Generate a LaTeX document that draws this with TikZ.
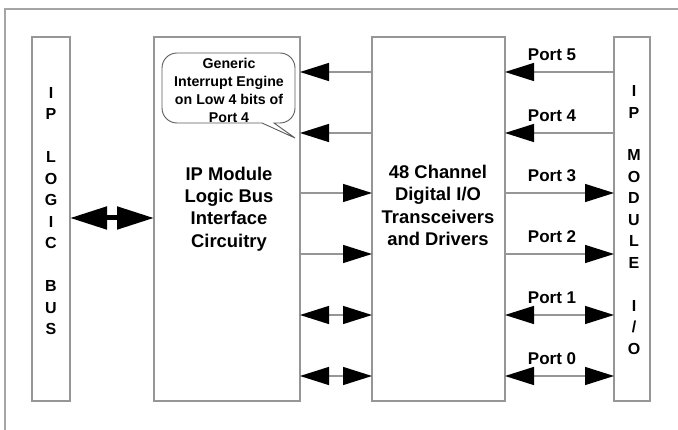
\documentclass[tikz,border=0pt]{standalone}
\usepackage{fontspec}
\setmainfont{Liberation Sans}
\usetikzlibrary{arrows.meta}

\definecolor{linegray}{RGB}{150,150,150}
\definecolor{framegray}{RGB}{165,165,165}
\definecolor{bubblegray}{RGB}{90,90,90}

\tikzset{
    blockbox/.style={draw=linegray, line width=1.3pt, inner sep=0pt, outer sep=0pt},
    sig/.style={draw=linegray, line width=1.4pt, >={Triangle[length=29pt,width=18pt,color=black]}},
    vletters/.style={align=center, font=\fontsize{16}{21.5}\selectfont\bfseries},
    maintext/.style={align=center, font=\fontsize{18.4}{22.3}\selectfont\bfseries},
    bubbletext/.style={align=center, font=\fontsize{14.2}{18}\selectfont\bfseries},
    portlbl/.style={font=\fontsize{17}{20}\selectfont\bfseries},
}

\begin{document}
\begin{tikzpicture}[x=1pt, y=-1pt]
    \useasboundingbox (0,0) rectangle (678,430);

    % outer frame
    \draw[framegray, line width=1.2pt] (678,9) -- (5,9) -- (5,430);

    % the four blocks
    \node[blockbox, minimum width=38pt,  minimum height=364pt] (bus)   at (51,219) {};
    \node[blockbox, minimum width=146pt, minimum height=364pt] (ipm)   at (227,219) {};
    \node[blockbox, minimum width=133pt, minimum height=364pt] (xcvr)  at (438.5,219) {};
    \node[blockbox, minimum width=36pt,  minimum height=364pt] (iomod) at (632,219) {};

    \node[vletters] (buslbl) at (51,211) {I\\P\\[21.5pt]L\\O\\G\\I\\C\\[21.5pt]B\\U\\S};
    \node[vletters] (iolbl) at (634,220) {I\\P\\[21.3pt]M\\O\\D\\U\\L\\E\\[21.3pt]I\\/\\O};
    \node[maintext] (ipmlbl) at (229,209) {IP Module\\Logic Bus\\Interface\\Circuitry};
    \node[maintext] (xcvrlbl) at (438,205.5) {48 Channel\\Digital I/O\\Transceivers\\and Drivers};

    % speech bubble
    \draw[bubblegray, line width=0.9pt] (295,138) -- (274,123) [rounded corners=15pt] -- (295,123) -- (295,53)
        -- (162,53) -- (162,123) [sharp corners] -- (262,123) -- cycle;
    \node[bubbletext] (irq) at (229,90) {Generic\\Interrupt Engine\\on Low 4 bits of\\Port 4};

    % logic bus
    \draw[line width=5pt, {Triangle[length=37pt,width=22pt]}-{Triangle[length=37pt,width=22pt]}]
        (bus.east |- 0,218) -- (ipm.west |- 0,218);

    % port rows
    \foreach \n/\y in {5/72,4/133,3/193,2/254,1/315,0/376}{
        \coordinate (r\n) at (0,\y);
        \node[portlbl] (port\n) at (552,\y-17) {Port \n};
    }
    \foreach \n in {5,4}{
        \draw[sig,->] (xcvr.west |- r\n) -- (ipm.east |- r\n);
        \draw[sig,->] (iomod.west |- r\n) -- (xcvr.east |- r\n);
    }
    \foreach \n in {3,2}{
        \draw[sig,->] (ipm.east |- r\n) -- (xcvr.west |- r\n);
        \draw[sig,->] (xcvr.east |- r\n) -- (iomod.west |- r\n);
    }
    \foreach \n in {1,0}{
        \draw[sig,<->] (ipm.east |- r\n) -- (xcvr.west |- r\n);
        \draw[sig,<->] (xcvr.east |- r\n) -- (iomod.west |- r\n);
    }
\end{tikzpicture}
\end{document}
